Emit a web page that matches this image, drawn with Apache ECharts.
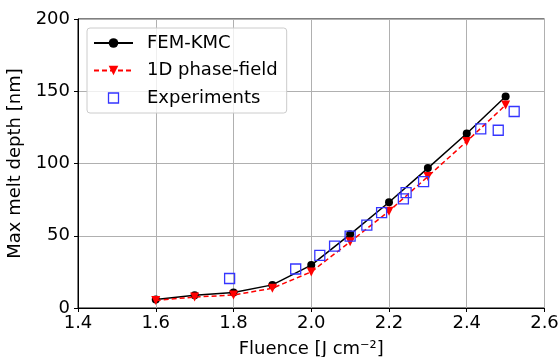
<!DOCTYPE html>
<html>
<head>
<meta charset="utf-8">
<script src="https://cdn.jsdelivr.net/npm/echarts@6/dist/echarts.min.js"></script>
<style>html,body{margin:0;padding:0;background:#fff}#c{width:558px;height:357px}</style>
</head>
<body>
<div id="c"></div>
<script>
const femX = [1.6, 1.7, 1.8, 1.9, 2.0, 2.1, 2.2, 2.3, 2.4, 2.5];
const femY = [5.8, 8.8, 10.7, 16.0, 29.7, 51.0, 73.2, 96.8, 120.8, 146.4];
const pfX = [1.6, 1.7, 1.8, 1.9, 2.0, 2.1, 2.2, 2.3, 2.4, 2.5];
const pfY = [5.2, 7.6, 9.0, 13.7, 25.0, 45.8, 67.0, 91.0, 115.3, 140.5];
const expX = [1.79, 1.96, 2.022, 2.06, 2.10, 2.143, 2.181, 2.237, 2.244, 2.289, 2.436, 2.481, 2.522];
const expY = [20.4, 27.0, 36.4, 42.8, 49.8, 57.4, 66.0, 75.5, 79.9, 87.5, 124.0, 123.0, 136.0];
const xTicks = [1.4, 1.6, 1.8, 2.0, 2.2, 2.4, 2.6];
const yTicks = [0, 50, 100, 150, 200];
const names = ['FEM-KMC', '1D phase-field', 'Experiments'];

const FONT = 'DejaVu Sans';
const BLUE = '#3535ff';
const zip = (a, b) => a.map((v, i) => [v, b[i]]);
const chart = echarts.init(document.getElementById('c'), null, {renderer: 'canvas'});
chart.setOption({
  animation: false,
  backgroundColor: '#fff',
  textStyle: {fontFamily: FONT, color: '#000'},
  grid: {left: 78, right: 13.5, top: 19, bottom: 49, outerBoundsMode: 'none', containLabel: false,
         show: true, borderColor: '#000', borderWidth: 1, backgroundColor: 'transparent'},
  legend: {
    orient: 'vertical', left: 87, top: 28,
    padding: [6, 9, 6, 6],
    itemWidth: 39, itemHeight: 12, itemGap: 9.5,
    borderColor: '#cccccc', borderWidth: 1, borderRadius: 3,
    backgroundColor: 'rgba(255,255,255,0.8)',
    textStyle: {fontFamily: FONT, fontSize: 18, color: '#000', padding: [0, 0, 0, 9]},
    data: [
      {name: names[0]},
      {name: names[1]},
      {name: names[2], icon: 'path://M0,0M39,12M14.5,1L24.5,1L24.5,11L14.5,11Z',
       itemStyle: {color: 'rgba(0,0,0,0)', borderColor: BLUE, borderWidth: 1.3, opacity: 1}}
    ]
  },
  xAxis: {
    type: 'value', min: xTicks[0], max: xTicks[xTicks.length - 1], interval: 0.2,
    name: 'Fluence [J cm\u207B\u00B2]', nameLocation: 'middle', nameGap: 32,
    nameTextStyle: {fontFamily: FONT, fontSize: 18, color: '#000'},
    axisLine: {show: true, onZero: false, lineStyle: {color: '#000', width: 1}},
    axisTick: {show: true, length: 4, lineStyle: {color: '#000'}},
    axisLabel: {fontFamily: FONT, fontSize: 18, color: '#000', margin: 6, formatter: v => v.toFixed(1)},
    splitLine: {show: true, lineStyle: {color: '#b0b0b0', width: 1}}
  },
  yAxis: {
    type: 'value', min: yTicks[0], max: yTicks[yTicks.length - 1], interval: 50,
    name: 'Max melt depth [nm]', nameLocation: 'middle', nameGap: 53,
    nameTextStyle: {fontFamily: FONT, fontSize: 18, color: '#000'},
    axisLine: {show: true, lineStyle: {color: '#000', width: 1}},
    axisTick: {show: true, length: 4, lineStyle: {color: '#000'}},
    axisLabel: {fontFamily: FONT, fontSize: 18, color: '#000', margin: 8},
    splitLine: {show: true, lineStyle: {color: '#b0b0b0', width: 1}}
  },
  series: [
    {
      name: names[0], type: 'line', data: zip(femX, femY),
      symbol: 'circle', symbolSize: 8,
      lineStyle: {color: '#000', width: 1.5},
      itemStyle: {color: '#000'}, z: 3
    },
    {
      name: names[1], type: 'line', data: zip(pfX, pfY),
      symbol: 'triangle', symbolRotate: 180, symbolSize: 9,
      lineStyle: {color: '#ff0000', width: 1.5, type: [5, 3]},
      itemStyle: {color: '#ff0000'}, z: 4
    },
    {
      name: names[2], type: 'scatter', data: zip(expX, expY),
      symbol: 'rect', symbolSize: 10, symbolKeepAspect: true,
      itemStyle: {color: 'rgba(0,0,0,0)', borderColor: BLUE, borderWidth: 1.3, opacity: 1}, z: 5
    }
  ]
});
</script>
</body>
</html>
